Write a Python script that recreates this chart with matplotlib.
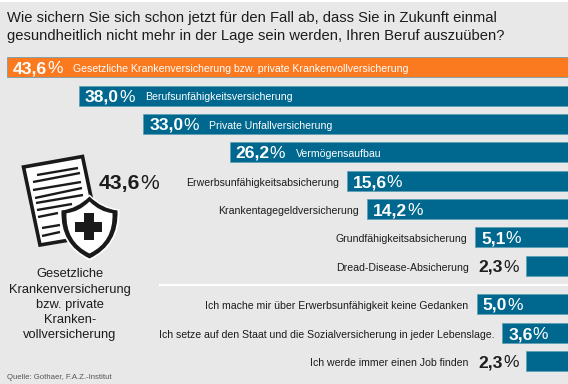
import matplotlib
matplotlib.use('Agg')
import matplotlib.pyplot as plt
from matplotlib.patches import Polygon, Rectangle, PathPatch
from matplotlib.path import Path
from matplotlib.transforms import Affine2D

plt.rcParams['font.family'] = ['Liberation Sans', 'DejaVu Sans']

title = ['Wie sichern Sie sich schon jetzt für den Fall ab, dass Sie in Zukunft einmal',
         'gesundheitlich nicht mehr in der Lage sein werden, Ihren Beruf auszuüben?']
categories = ['Gesetzliche Krankenversicherung bzw. private Krankenvollversicherung',
              'Berufsunfähigkeitsversicherung',
              'Private Unfallversicherung',
              'Vermögensaufbau',
              'Erwerbsunfähigkeitsabsicherung',
              'Krankentagegeldversicherung',
              'Grundfähigkeitsabsicherung',
              'Dread-Disease-Absicherung',
              'Ich mache mir über Erwerbsunfähigkeit keine Gedanken',
              'Ich setze auf den Staat und die Sozialversicherung in jeder Lebenslage.',
              'Ich werde immer einen Job finden']
values = ['43,6', '38,0', '33,0', '26,2', '15,6', '14,2', '5,1', '2,3', '5,0', '3,6', '2,3']
# the bars in the original are not quite to scale, so these are the drawn lengths
bar_lengths = [43.6, 38.0, 33.0, 26.3, 17.2, 15.6, 7.2, 3.3, 7.1, 5.1, 3.3]
rows = [67, 95.5, 124, 152, 181, 209, 237, 266, 304, 333, 361]

ORANGE = '#fb7a20'
TEAL = '#00688f'
BG = '#e8e8e8'
INK = '#1c1c1c'

fig = plt.figure(figsize=(5.68, 3.84), dpi=100, facecolor=BG)

# bars grow from the right edge of the picture to the left
ax = fig.add_axes([0, 0, 1, 1])
ax.set_xlim(568 / 12.87, 0)
ax.set_ylim(384, 0)
ax.axis('off')
colors = [ORANGE] + [TEAL] * (len(values) - 1)
ax.barh(rows, bar_lengths, height=20, color=colors, edgecolor='#5b9db5', linewidth=0.5)

# overlay in pixels for everything that is not a bar
px = fig.add_axes([0, 0, 1, 1])
px.set_xlim(0, 568)
px.set_ylim(384, 0)
px.axis('off')
px.patch.set_alpha(0)
renderer = fig.canvas.get_renderer()

px.add_patch(Rectangle((0, 0), 568, 2, color='white', lw=0))
px.text(7, 22, title[0], fontsize=10.6, color=INK, va='baseline')
px.text(7, 40, title[1], fontsize=10.6, color=INK, va='baseline')
px.plot([159, 568], [285, 285], color='white', lw=1.6, solid_capstyle='butt')


def value_text(x, y, value, color, size, align='left'):
    # digits are heavy, the percent sign is light
    num = px.text(x, y, value, fontsize=size, fontweight='bold', color=color, va='baseline')
    pct = px.text(x, y, '%', fontsize=size, color=color, va='baseline')
    w_num = num.get_window_extent(renderer).width
    w_pct = pct.get_window_extent(renderer).width
    if align == 'right':
        num.set_x(x - w_num - w_pct)
        pct.set_x(x - w_pct)
    else:
        pct.set_x(x + w_num)


for i, (cat, val, length, y) in enumerate(zip(categories, values, bar_lengths, rows)):
    left = ax.transData.transform((length, 0))[0]
    if length > 4:
        value_text(left + 6, y + 6, val, 'white', 12.6)
        end = left - 8
    else:
        value_text(left - 7, y + 6, val, INK, 12.6, align='right')
        end = left - 57
    if i < 4:
        px.text(left + 66, y + 5, cat, fontsize=7.6, color='white', va='baseline')
    else:
        px.text(end, y + 5, cat, fontsize=7.6, color=INK, ha='right', va='baseline')

# document with shield
doc = Polygon([(23.5, 167), (82.5, 156.5), (99, 235), (40, 245)], closed=True,
              facecolor='white', edgecolor='#1a1a1a', lw=2.6, joinstyle='miter')
px.add_patch(doc)
text_lines = [(37, 175, 78, 168), (33, 182, 80, 173), (33, 190, 81, 182), (35, 198, 82, 188),
              (36, 203, 83, 195), (37, 210, 72, 204), (38, 217, 58, 213), (42, 228, 60, 225),
              (42, 236, 60, 232)]
for x0, y0, x1, y1 in text_lines:
    px.plot([x0, x1], [y0, y1], color='#1a1a1a', lw=1.7, solid_capstyle='butt')

shield_verts = [(0, -1), (0.45, -0.6), (1, -0.55), (1.05, 0.55), (0, 1),
                (-1.05, 0.55), (-1, -0.55), (-0.45, -0.6), (0, -1)]
shield_codes = [Path.MOVETO] + [Path.CURVE3] * 8
shield = Path(shield_verts, shield_codes)
for sx, sy, fc in [(30, 33, 'white'), (28, 31, '#1a1a1a'), (23, 26, 'white')]:
    patch = PathPatch(shield, facecolor=fc, edgecolor='none',
                      transform=Affine2D().scale(sx, sy).translate(89.5, 227.5) + px.transData)
    px.add_patch(patch)
px.add_patch(Rectangle((84, 213), 9.5, 27, color='#1a1a1a', lw=0))
px.add_patch(Rectangle((75, 222), 27, 9.5, color='#1a1a1a', lw=0))

value_text(99, 189, '43,6', INK, 15.2)

caption = ['Gesetzliche', 'Krankenversicherung', 'bzw. private', 'Kranken-', 'vollversicherung']
for line, y in zip(caption, [277, 293, 308, 323, 338]):
    px.text(70, y, line, fontsize=9.3, color=INK, ha='center', va='baseline')

px.text(7, 379, 'Quelle: Gothaer, F.A.Z.-Institut', fontsize=5.6, color='#555555', va='baseline')

fig.savefig('out.png', dpi=100, facecolor=BG)
